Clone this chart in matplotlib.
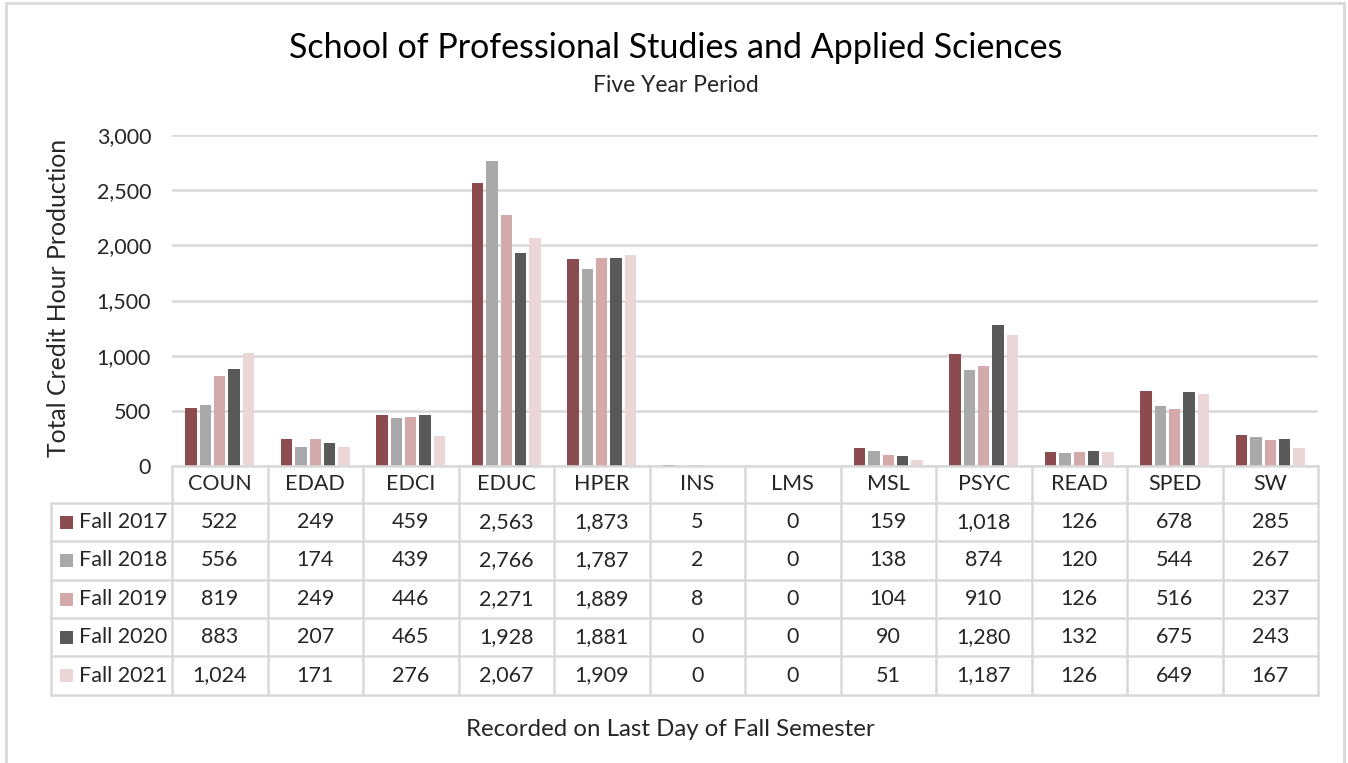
import matplotlib
matplotlib.use("Agg")
import matplotlib.pyplot as plt
from matplotlib.transforms import blended_transform_factory
from matplotlib.lines import Line2D
from matplotlib.patches import Rectangle
import numpy as np

plt.rcParams['font.family'] = ['Lato', 'DejaVu Sans']

departments = ["COUN", "EDAD", "EDCI", "EDUC", "HPER", "INS", "LMS", "MSL",
               "PSYC", "READ", "SPED", "SW"]
terms = ["Fall 2017", "Fall 2018", "Fall 2019", "Fall 2020", "Fall 2021"]
fall_2017 = [522, 249, 459, 2563, 1873, 5, 0, 159, 1018, 126, 678, 285]
fall_2018 = [556, 174, 439, 2766, 1787, 2, 0, 138, 874, 120, 544, 267]
fall_2019 = [819, 249, 446, 2271, 1889, 8, 0, 104, 910, 126, 516, 237]
fall_2020 = [883, 207, 465, 1928, 1881, 0, 0, 90, 1280, 132, 675, 243]
fall_2021 = [1024, 171, 276, 2067, 1909, 0, 0, 51, 1187, 126, 649, 167]
series = [fall_2017, fall_2018, fall_2019, fall_2020, fall_2021]
colors = ["#8B4B4F", "#A9A9A9", "#D4A9AA", "#595959", "#EAD6D7"]
yticks = [0, 500, 1000, 1500, 2000, 2500, 3000]

W, H = 1348, 763
fig = plt.figure(figsize=(W / 100, H / 100), dpi=100)
GRID = "#D9D9D9"
TXT = "#262626"
FS = 15.5


def fy(py):
    """Convert a pixel row (from the top) to a figure fraction."""
    return 1 - py / H


def fx(px):
    return px / W


# outer chart frame
fig.add_artist(Rectangle((fx(6), fy(790)), fx(1344 - 6), fy(3) - fy(790),
                         transform=fig.transFigure, fill=False,
                         edgecolor=GRID, linewidth=2))

ax_left, ax_right, ax_top, ax_bot = 172, 1318, 135, 466
ax = fig.add_axes([fx(ax_left), fy(ax_bot), fx(ax_right - ax_left),
                   fy(ax_top) - fy(ax_bot)])
x = np.arange(len(departments))
n = len(series)
step, width = 0.15, 0.12
for i, (vals, c) in enumerate(zip(series, colors)):
    ax.bar(x + (i - (n - 1) / 2) * step, vals, width=width, color=c,
           zorder=3)

ax.set_xlim(-0.5, len(departments) - 0.5)
ax.set_ylim(0, 3000)
ax.set_yticks(yticks)
ax.set_yticklabels([f"{v:,}" for v in yticks], fontsize=15.5, color=TXT)
ax.tick_params(axis='y', length=0, pad=15)
ax.set_xticks([])
for s in ax.spines.values():
    s.set_visible(False)
ax.grid(axis='y', color=GRID, linewidth=1.8, zorder=0)
ax.set_axisbelow(True)
fig.text(fx(59), fy(298), "Total Credit Hour Production", rotation=90,
         ha='center', va='center', fontsize=17.8, color=TXT)

# data table beneath the plot
tr = blended_transform_factory(ax.transData, fig.transFigure)
row_edges = [466, 503, 541, 580, 618, 656, 695]
unit = (ax_right - ax_left) / len(departments)
label_left = -0.5 - (ax_left - 51) / unit
col_edges = np.arange(len(departments) + 1) - 0.5

lw = 1.8
# horizontal lines
fig.add_artist(Line2D([col_edges[0], col_edges[-1]], [fy(row_edges[0])] * 2,
                      transform=tr, color=GRID, lw=lw))
for py in row_edges[1:]:
    fig.add_artist(Line2D([label_left, col_edges[-1]], [fy(py)] * 2,
                          transform=tr, color=GRID, lw=lw))
# vertical lines
for cx in col_edges:
    fig.add_artist(Line2D([cx, cx], [fy(row_edges[0]), fy(row_edges[-1])],
                          transform=tr, color=GRID, lw=lw))
fig.add_artist(Line2D([label_left, label_left],
                      [fy(row_edges[1]), fy(row_edges[-1])],
                      transform=tr, color=GRID, lw=lw))

# header row
hy = fy((row_edges[0] + row_edges[1]) / 2)
for xi, d in zip(x, departments):
    fig.text(xi, hy, d, transform=tr, ha='center', va='center',
             fontsize=FS, color=TXT)

# body rows
for r, (term, vals, c) in enumerate(zip(terms, series, colors)):
    cy = fy((row_edges[r + 1] + row_edges[r + 2]) / 2)
    key_x = label_left + 9 / unit
    fig.add_artist(Rectangle((key_x, cy - 6.5 / H), 12.5 / unit, 13 / H,
                             transform=tr, facecolor=c, edgecolor='none'))
    fig.text(label_left + 28 / unit, cy, term, transform=tr, ha='left',
             va='center', fontsize=FS, color=TXT)
    for xi, v in zip(x, vals):
        fig.text(xi, cy, f"{v:,}", transform=tr, ha='center', va='center',
                 fontsize=FS, color=TXT)

fig.text(fx(676), fy(48), "School of Professional Studies and Applied Sciences",
         ha='center', va='center', fontsize=24.5, color="#000000")
fig.text(fx(676), fy(86), "Five Year Period", ha='center', va='center',
         fontsize=16.5, color=TXT)
fig.text(fx(670), fy(729), "Recorded on Last Day of Fall Semester",
         ha='center', va='center', fontsize=17.3, color=TXT)

fig.savefig("out.png", dpi=100, facecolor="white")
